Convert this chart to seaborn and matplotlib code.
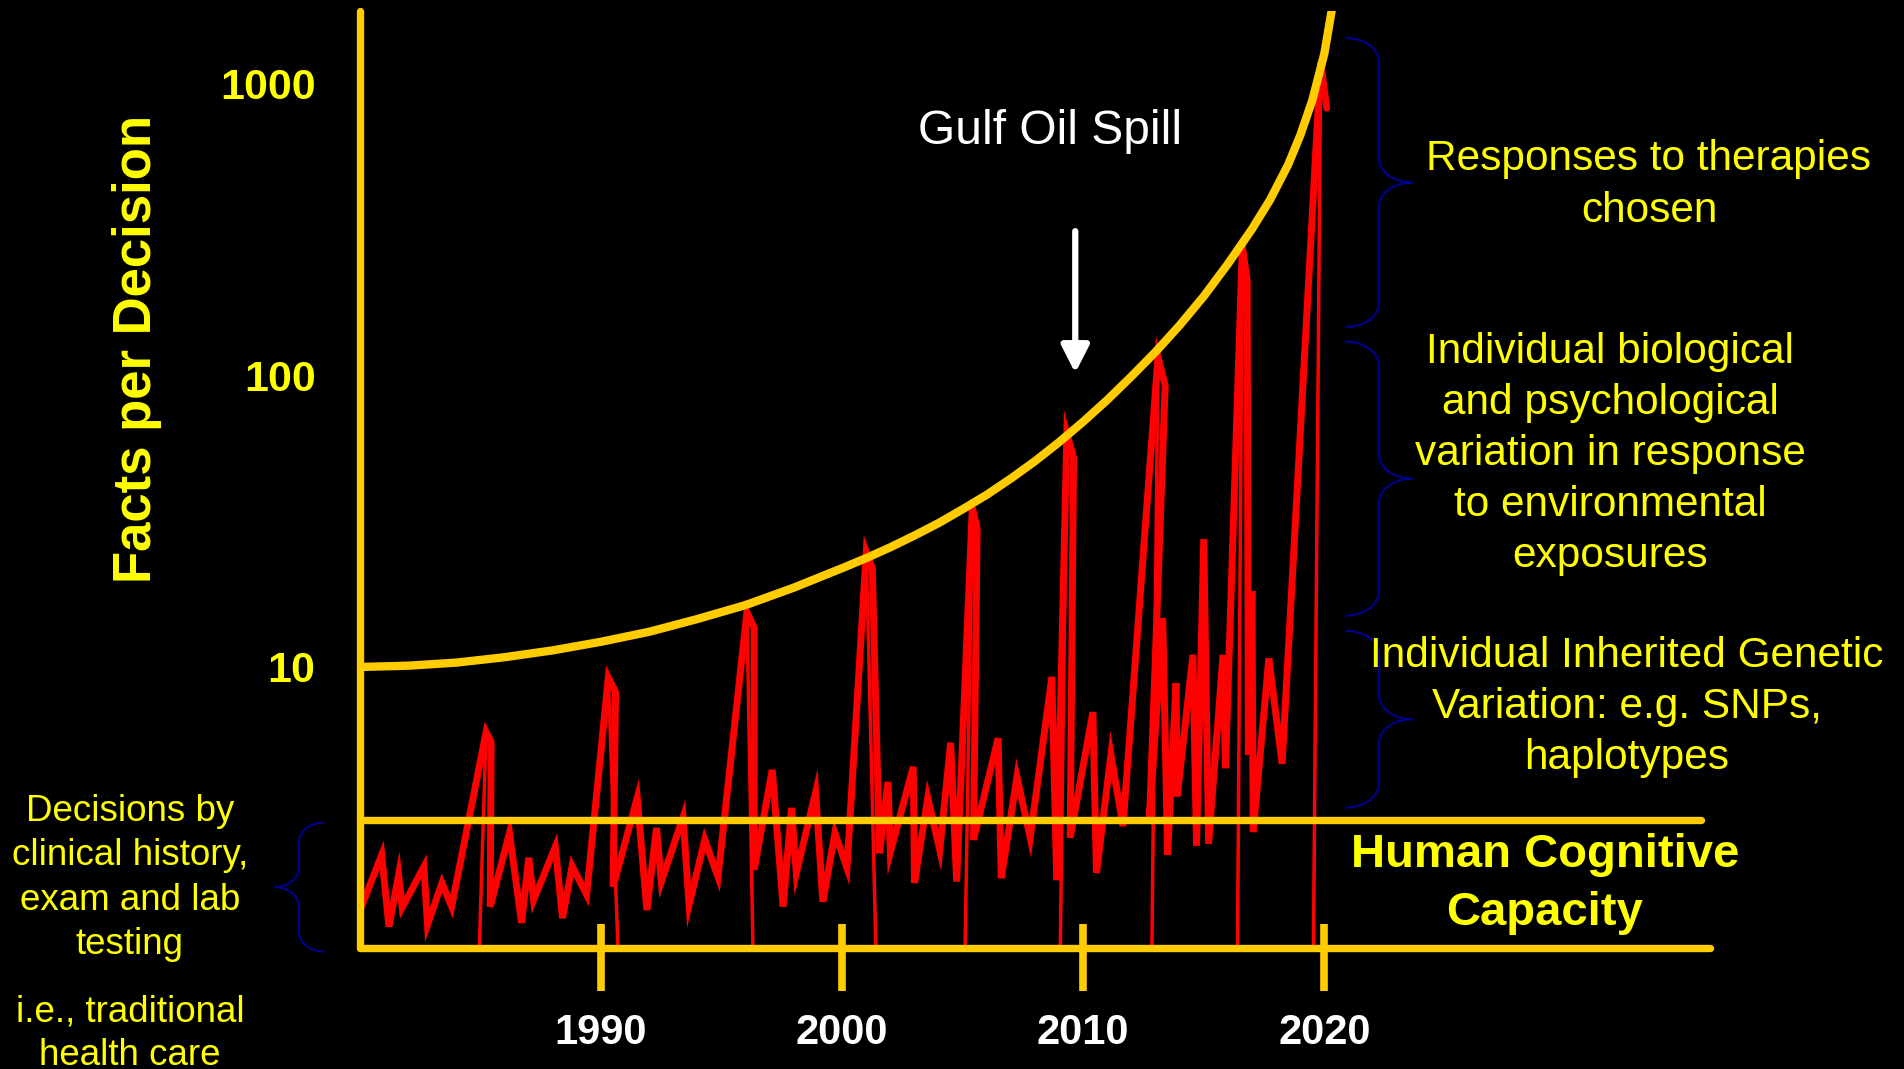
import numpy as np
import matplotlib
matplotlib.use("Agg")
import matplotlib.pyplot as plt
from matplotlib.lines import Line2D
from matplotlib.ticker import NullLocator, FixedLocator, FixedFormatter
from matplotlib.transforms import IdentityTransform
import seaborn as sns

# facts per decision
trace_year = [1980.0, 1980.9, 1981.2, 1981.6, 1981.75, 1982.65, 1982.8, 1983.4, 1983.8,
              1985.23, 1985.44, 1985.4,
              1986.2, 1986.7, 1987.0, 1987.2, 1988.1, 1988.4, 1988.8, 1989.4,
              1990.3, 1990.6, 1990.5,
              1991.5, 1991.9, 1992.3, 1992.5, 1993.4, 1993.65, 1994.3, 1994.85,
              1996.05, 1996.35, 1996.35,
              1997.1, 1997.55, 1997.9, 1998.1, 1998.9, 1999.2, 1999.7, 2000.2,
              2001.0, 2001.25, 2001.55,
              2001.9, 2002.0, 2002.95, 2003.0, 2003.55, 2004.05, 2004.5, 2004.75,
              2005.4, 2005.6, 2005.45,
              2006.47, 2006.6, 2007.25, 2007.8, 2008.7, 2008.9,
              2009.32, 2009.6, 2009.46,
              2010.4, 2010.55, 2011.15, 2011.65,
              2013.1, 2013.4, 2012.75,
              2013.3, 2013.5, 2013.85, 2013.9, 2014.55, 2014.7, 2015.0, 2015.2, 2015.8, 2015.9,
              2016.6, 2016.8, 2016.85,
              2017.0, 2017.05, 2017.7, 2018.25,
              2019.85, 2020.1]
trace_val = [1.47, 2.27, 1.29, 1.94, 1.50, 2.07, 1.31, 1.82, 1.51,
             5.98, 5.53, 1.51,
             2.70, 1.33, 2.22, 1.59, 2.42, 1.38, 2.08, 1.66,
             9.2, 8.2, 1.77,
             3.56, 1.47, 2.81, 1.84, 3.06, 1.53, 2.56, 1.91,
             15.4, 13.6, 2.02,
             4.44, 1.51, 3.29, 1.97, 3.73, 1.57, 2.70, 2.05,
             24.8, 21.8, 2.3,
             4.04, 2.32, 4.55, 1.82, 3.56, 2.36, 5.5, 1.84,
             35.1, 29.9, 2.56,
             5.7, 1.89, 4.2, 2.6, 9.25, 1.86,
             63, 52, 2.6,
             7.0, 1.97, 5.0, 2.85,
             115, 92, 3.0,
             14.7, 2.27, 8.8, 3.6, 11, 2.44, 27.4, 2.48, 11, 4.5,
             276, 211, 5.0,
             18.2, 2.72, 10.7, 4.66,
             1180, 820]

# thin drops from each big peak down to the x axis
drop_top_year = [1985.23, 1990.3, 1996.05, 2001.0, 2005.4, 2009.32, 2013.1, 2016.6, 2019.85]
drop_top_val = [5.98, 9.2, 15.4, 24.8, 35.1, 63, 115, 276, 1180]
drop_year = [1984.95, 1990.7, 1996.3, 2001.4, 2005.1, 2009.05, 2012.85, 2016.4, 2019.55]

# the growth curve
curve_year = [1980, 1982, 1984, 1986, 1988, 1990, 1992, 1994, 1996, 1998, 2000,
              2001, 2002, 2003, 2004, 2005, 2006, 2007, 2008, 2009, 2010, 2011, 2012,
              2013, 2014, 2015, 2016, 2017, 2017.75, 2018.5, 2019, 2019.5, 2020,
              2020.3, 2020.5]
curve_val = [10.0, 10.1, 10.35, 10.8, 11.4, 12.2, 13.2, 14.6, 16.3, 18.7, 21.8,
             23.6, 25.7, 28.2, 31.1, 34.7, 38.9, 44.2, 50.7, 58.9, 69.2, 82.2, 98.9,
             120, 148, 186, 240, 316, 398, 525, 661, 871, 1259, 1758, 2400]

capacity = 3
x_ticks = [1990, 2000, 2010, 2020]
y_ticks = [10, 100, 1000]
y_tick_labels = ["10", "100", "1000"]
x_range = (1980, 2036)
y_range = (1.09, 1765)

spill_year = 2009.67
spill_arrow = (311, 101.6)

# braces: (low, high) in facts per decision
brace_lo = [3.3, 15, 146]
brace_hi = [13.3, 130, 1426]
brace_text = ["Individual Inherited Genetic\nVariation: e.g. SNPs,\nhaplotypes",
              "Individual biological\nand psychological\nvariation in response\nto environmental\nexposures",
              "Responses to therapies\nchosen"]
left_brace = (1.06, 2.93)

sns.set_theme(style="white", rc={"axes.facecolor": "black", "figure.facecolor": "black"})
plt.rcParams["font.family"] = ["Liberation Sans", "DejaVu Sans"]

W, H = 1904, 1069
fig = plt.figure(figsize=(W / 100, H / 100), dpi=100)
ax = fig.add_axes([360 / W, 121 / H, 1350 / W, 937 / H])

gold = "#FFCC00"
yellow = "#FFFF00"
navy = "#00008B"

sns.lineplot(x=trace_year, y=trace_val, sort=False, estimator=None, color="#FF0000",
             lw=5, ax=ax, zorder=2)
ax.lines[-1].set_solid_joinstyle("miter")
for ty, tv, dy in zip(drop_top_year, drop_top_val, drop_year):
    ax.plot([ty, dy], [tv, y_range[0]], color="#FF0000", lw=2.5, zorder=2)

sns.lineplot(x=curve_year, y=curve_val, sort=False, estimator=None, color=gold,
             lw=6, ax=ax, zorder=3)
ax.axhline(capacity, xmin=0, xmax=0.993, color=gold, lw=5.3, zorder=3)

ax.set_yscale("log")
ax.set_xlim(*x_range)
ax.set_ylim(*y_range)

for s in ["top", "right"]:
    ax.spines[s].set_visible(False)
for s in ["left", "bottom"]:
    ax.spines[s].set_color(gold)
    ax.spines[s].set_linewidth(5.3)
    ax.spines[s].set_zorder(5)
    ax.spines[s].set_capstyle("round")

# year ticks stick out more below the axis than above it
ax.xaxis.remove_overlapping_locs = False
ax.xaxis.set_major_locator(FixedLocator(x_ticks))
ax.xaxis.set_minor_locator(FixedLocator(x_ticks))
ax.tick_params(axis="x", which="major", bottom=True, direction="out", length=31, width=5.5,
               color=gold, pad=16, labelsize=30, labelcolor="white")
ax.tick_params(axis="x", which="minor", bottom=True, direction="in", length=17, width=5.5,
               color=gold)
for lab in ax.get_xticklabels():
    lab.set_fontweight("bold")
ax.yaxis.set_major_locator(FixedLocator(y_ticks))
ax.yaxis.set_major_formatter(FixedFormatter(y_tick_labels))
ax.yaxis.set_minor_locator(NullLocator())
ax.tick_params(axis="y", length=0, pad=32, labelsize=31, labelcolor=yellow)
for lab in ax.get_yticklabels():
    lab.set_fontweight("bold")
ax.grid(False)

ax.set_xlabel("")
ax.set_ylabel("Facts per Decision", fontsize=38, fontweight="bold", color=yellow, va="center")
ax.yaxis.set_label_coords(-0.165, 0.639)

# Gulf oil spill marker
ax.annotate("", xy=(spill_year, spill_arrow[1]), xytext=(spill_year, spill_arrow[0]),
            arrowprops=dict(arrowstyle="-|>,head_length=0.55,head_width=0.28",
                            color="white", lw=4.5, mutation_scale=30,
                            shrinkA=0, shrinkB=0))
fig.text(1050 / W, 1 - 131 / H, "Gulf Oil Spill", color="white", fontsize=34.5,
         ha="center", va="center")

fig.text(1545 / W, 1 - 884 / H, "Human Cognitive\nCapacity", color=yellow, fontsize=34,
         fontweight="bold", ha="center", va="center", linespacing=1.42)


def brace(x0, depth, y_top, y_bot, ry):
    # curly brace in pixels, x0 = open side, depth > 0 points right
    s = np.sign(depth)
    r = abs(depth) / 2
    ym = (y_top + y_bot) / 2
    t = np.linspace(0, np.pi / 2, 20)
    xs, ys = [], []
    xs += list(x0 + s * r * np.sin(t)); ys += list(y_top - ry + ry * np.cos(t))
    xs += list(x0 + s * r + s * r * (1 - np.cos(t))); ys += list(ym + ry - ry * np.sin(t))
    xs += list(x0 + s * 2 * r - s * r * np.sin(t)); ys += list(ym - ry + ry * np.cos(t))
    xs += list(x0 + s * r * np.cos(t)); ys += list(y_bot + ry - ry * np.sin(t))
    fig.add_artist(Line2D(xs, ys, color=navy, lw=1.6, transform=IdentityTransform()))


fig.canvas.draw()
for lo, hi in zip(brace_lo, brace_hi):
    y_bot = ax.transData.transform((2000, lo))[1]
    y_top = ax.transData.transform((2000, hi))[1]
    brace(1346, 66, y_top, y_bot, 24)
y_bot = ax.transData.transform((2000, left_brace[0]))[1]
y_top = ax.transData.transform((2000, left_brace[1]))[1]
brace(323, -48, y_top, y_bot, 20)

text_pos = [(1627, 707), (1610, 454), (1649, 185)]
for (px, py), txt in zip(text_pos, brace_text):
    fig.text(px / W, 1 - py / H, txt, color=yellow, fontsize=30.5, ha="center",
             va="center", linespacing=1.36)

fig.text(130 / W, 1 - 878 / H, "Decisions by\nclinical history,\nexam and lab\ntesting",
         color=yellow, fontsize=26.5, ha="center", va="center", linespacing=1.35)
fig.text(130 / W, 1 - 1034 / H, "i.e., traditional\nhealth care", color=yellow,
         fontsize=26.5, ha="center", va="center", linespacing=1.32)

fig.savefig("out.png", dpi=100, facecolor="black")
